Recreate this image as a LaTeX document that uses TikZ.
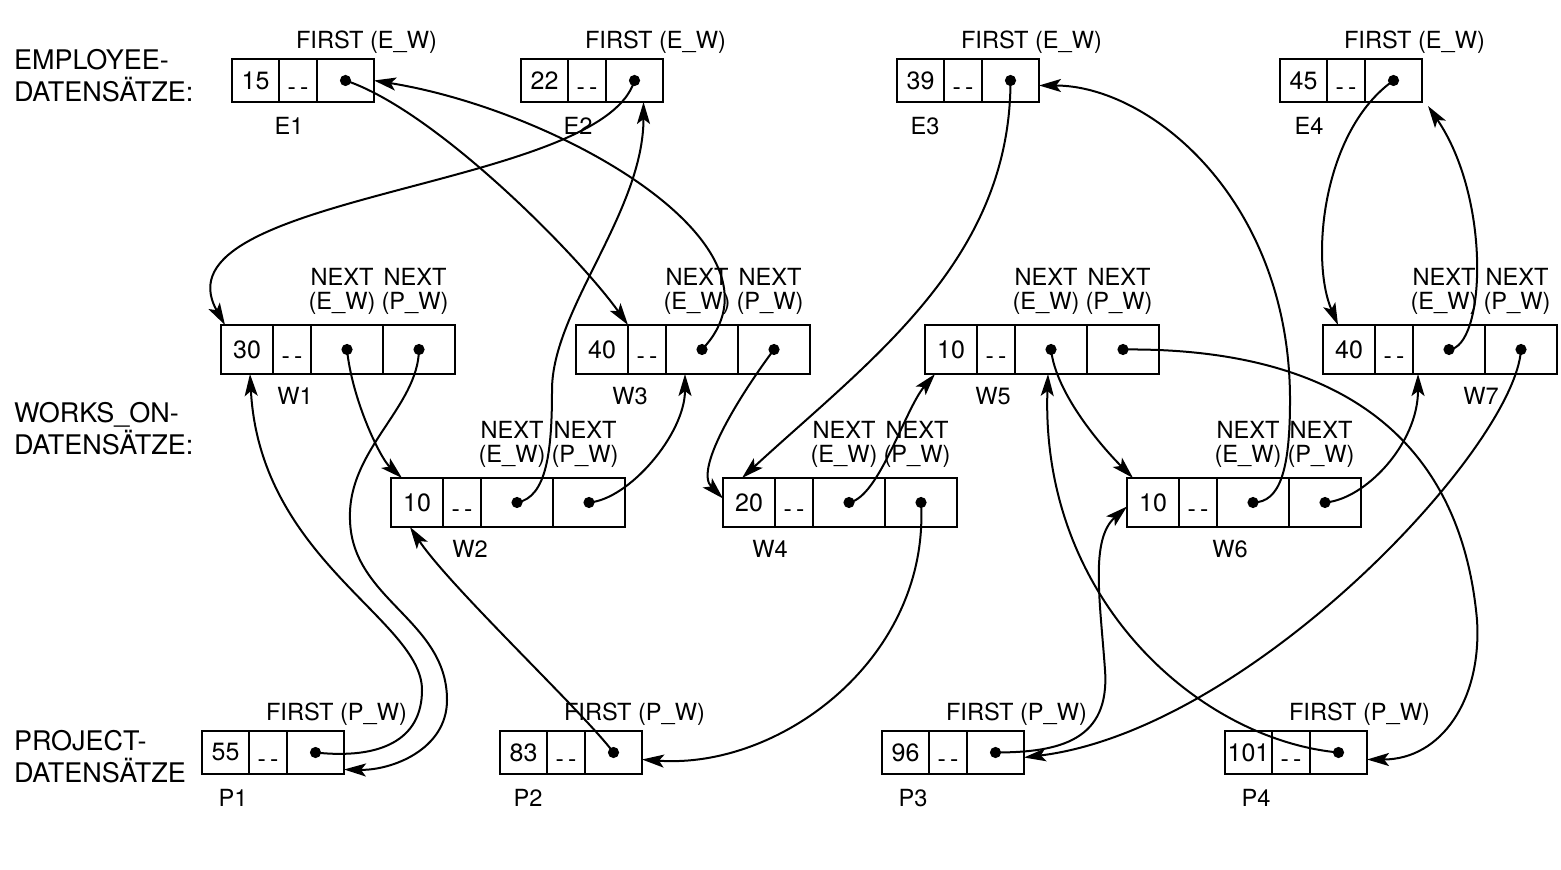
\documentclass[tikz,border=0pt]{standalone}
\usepackage{fontspec}
\setmainfont{TeX Gyre Heros}
\usetikzlibrary{arrows.meta,calc,positioning}

\newcommand\dd{\raisebox{-7.5pt}[0pt][0pt]{-\,-}}

% record with three fields (employee, project)
\newcommand\erec[7]{%
  \node[box,minimum width=23.5pt] (#1a) at (#2,#3) {#4};
  \node[box,minimum width=19pt,right=0pt of #1a] (#1b) {\dd};
  \node[box,minimum width=28.5pt,right=0pt of #1b] (#1c) {};
  \fill (#1c.center) circle (2.8pt);
  \node[lbl] (#1l) at ($(#1a.south west)+(#6,24)$) {#5};
  \node[lbl] (#1f) at ($(#1c.north)+(21,-17)$) {#7};
}
% works_on record with four fields
\newcommand\wrec[6]{%
  \node[wbox,minimum width=26pt] (#1a) at (#2,#3) {#4};
  \node[wbox,minimum width=19pt,right=0pt of #1a] (#1b) {\dd};
  \node[wbox,minimum width=36pt,right=0pt of #1b] (#1c) {};
  \node[wbox,minimum width=36pt,right=0pt of #1c] (#1d) {};
  \fill (#1c.center) circle (2.8pt) (#1d.center) circle (2.8pt);
  \node[lbl] (#1l) at ($(#1a.south west)+(#6,22)$) {#5};
  \node[nxt] (#1n) at ($(#1c.north)+(-5,-9)$) {NEXT\\(E\_W)};
  \node[nxt] (#1m) at ($(#1d.north)+(-4,-9)$) {NEXT\\(P\_W)};
}

\begin{document}
\begin{tikzpicture}[x=0.5pt,y=-0.5pt,>={Stealth[length=11pt,width=6.5pt,inset=2.5pt]},
  box/.style={draw,line width=1pt,inner sep=0pt,outer sep=0pt,anchor=north west,
    minimum height=21.5pt,font=\fontsize{12.5}{14}\selectfont},
  wbox/.style={box,minimum height=24.5pt},
  lbl/.style={inner sep=0pt,font=\fontsize{11.8}{12}\selectfont},
  nxt/.style={lbl,align=center,anchor=south},
  side/.style={inner sep=0pt,anchor=west,align=left,font=\fontsize{13.5}{16}\selectfont},
  every path/.style={line width=1pt}]
\path[fill=white,use as bounding box] (0,0) rectangle (1561,870);

\node[side] (emp) at (13,76) {EMPLOYEE-\\DATENSÄTZE:};
\node[side] (wrk) at (13,429) {WORKS\_ON-\\DATENSÄTZE:};
\node[side] (prj) at (13,757) {PROJECT-\\DATENSÄTZE};

\erec{E1}{232}{59}{15}{E1}{57}{FIRST (E\_W)}
\erec{E2}{521}{59}{22}{E2}{57}{FIRST (E\_W)}
\erec{E3}{897}{59}{39}{E3}{28}{FIRST (E\_W)}
\erec{E4}{1280}{59}{45}{E4}{29}{FIRST (E\_W)}

\wrec{W1}{221}{325}{30}{W1}{74}
\wrec{W2}{391}{478}{10}{W2}{79}
\wrec{W3}{576}{325}{40}{W3}{54}
\wrec{W4}{723}{478}{20}{W4}{47}
\wrec{W5}{925}{325}{10}{W5}{68}
\wrec{W6}{1127}{478}{10}{W6}{103}
\wrec{W7}{1323}{325}{40}{W7}{158}

\erec{P1}{202}{731}{55}{P1}{31}{FIRST (P\_W)}
\erec{P2}{500}{731}{83}{P2}{28}{FIRST (P\_W)}
\erec{P3}{882}{731}{96}{P3}{31}{FIRST (P\_W)}
\erec{P4}{1225}{731}{101}{P4}{31}{FIRST (P\_W)}

% employee chains
\draw[->] (E1c.center) .. controls +(90,30) and +(-50,-70) .. (W3b.north west);
\draw[->] (W3c.center) .. controls +(98,-102) and +(186,30) .. (E1c.east);
\draw[->] (E2c.center) .. controls +(-33,110) and +(-75,-132) .. ($(W1a.north west)+(4,0)$);
\draw[->] (W1c.center) .. controls +(5,50) and +(-22,-20) .. ($(W2a.north west)+(11,0)$);
\draw[->] (W2c.center) .. controls +(30,-5) and +(0,60) .. (552,390)
  .. controls +(0,-80) and +(0,110) .. ($(E2c.south)+(9,0)$);
\draw[->] (E3c.center) .. controls +(0,180) and +(128,-118) .. ($(W4a.north west)+(19,0)$);
\draw[->] (W4c.center) .. controls +(30,-5) and +(-30,35) .. ($(W5a.south west)+(10,0)$);
\draw[->] (W5c.center) .. controls +(5,45) and +(-30,-30) .. ($(W6a.north west)+(6,0)$);
\draw[->] (W6c.center) .. controls +(27,0) and +(0,70) .. (1290,400)
  .. controls +(0,-200) and +(111,0) .. ($(E3c.east)+(0,5)$);
\draw[->] (E4c.center) .. controls +(-71,50) and +(-28,-65) .. ($(W7a.north west)+(15,0)$);
\draw[->] (W7c.center) .. controls +(36,-2) and +(64,94) .. ($(E4c.south east)+(6,4)$);

% project chains
\draw[->] (P1c.center) .. controls +(65,7) and +(0,50) .. (422,690)
  .. controls +(0,-70) and +(10,186) .. ($(W1a.south)+(3,0)$);
\draw[->] (W1d.center) .. controls +(-1,58) and +(-3,-70) .. (350,520)
  .. controls +(2,80) and +(0,-80) .. (447,700)
  .. controls +(0,50) and +(47,1) .. ($(P1c.east)+(0,17)$);
\draw[->] (P2c.center) .. controls +(-30,-40) and +(40,60) .. ($(W2a.south west)+(19,0)$);
\draw[->] (W2d.center) .. controls +(40,-3) and +(0,60) .. ($(W3c.south west)+(19,0)$);
\draw[->] (W3d.center) .. controls +(-30,40) and +(-30,-30) .. ($(W4a.west)+(0,-4)$);
\draw[->] (W4d.center) .. controls +(9,155) and +(139,10) .. ($(P2c.east)+(0,7)$);
\draw[->] (P3c.center) .. controls +(65,0) and +(5,70) .. (1105,670)
  .. controls +(-5,-70) and +(-37,33) .. ($(W6a.west)+(0,4)$);
\draw[->] (W6d.center) .. controls +(40,-3) and +(0,70) .. ($(W7c.south west)+(5,0)$);
\draw[->] (W7d.center) .. controls +(-6,98) and +(227,-28) .. ($(P3c.east)+(0,5)$);
\draw[->] (P4c.center) .. controls +(-139,-13) and +(-8,226) .. ($(W5c.south)+(-3,0)$);
\draw[->] (W5d.center) .. controls +(206,-2) and +(-17,-190) .. (1477,620)
  .. controls +(5,80) and +(74,0) .. ($(P4c.east)+(0,7)$);
\end{tikzpicture}
\end{document}
